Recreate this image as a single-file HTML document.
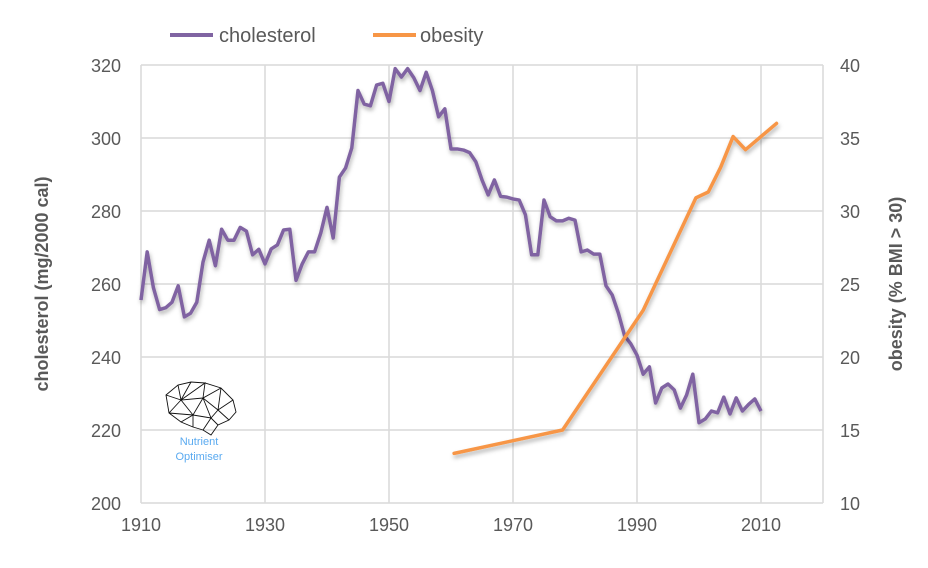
<!DOCTYPE html>
<html><head><meta charset="utf-8"><style>
body{margin:0;background:#fff;width:928px;height:563px;overflow:hidden;font-family:"Liberation Sans",sans-serif}
svg text{font-family:"Liberation Sans",sans-serif}
</style></head><body>
<svg id="chart" width="928" height="563">
<defs><filter id="sh" x="-5%" y="-5%" width="110%" height="120%"><feDropShadow dx="1" dy="3" stdDeviation="2" flood-color="#000" flood-opacity="0.3"/></filter></defs>
<g id="grid"></g>
<g id="axes"></g>
<g transform="translate(163,380)">
<path d="M3,15 L15,5 L28,2 L42,3 L58,8 L70,20 L73,32 L66,40 L55,45 L48,55 L40,50 L30,47 L18,42 L6,33 Z M15,5 L18,20 L28,2 M18,20 L42,3 L40,18 L58,8 M40,18 L18,20 L6,33 M18,20 L30,35 L40,18 L55,30 L58,8 M55,30 L70,20 M55,30 L66,40 M30,35 L18,42 M30,35 L30,47 M30,35 L48,38 L55,30 M48,38 L55,45 M48,38 L40,50 M3,15 L18,20 M6,33 L30,35 M40,18 L48,38" fill="none" stroke="#111" stroke-width="0.9"/>
<text x="36" y="65" font-size="11" fill="#5aaaf0" text-anchor="middle">Nutrient</text>
<text x="36" y="80" font-size="11" fill="#5aaaf0" text-anchor="middle">Optimiser</text>
</g>
<g id="series"></g>
<g>
<line x1="170" y1="35" x2="213" y2="35" stroke="#8064a2" stroke-width="4"/>
<text x="219" y="42" font-size="20" fill="#595959">cholesterol</text>
<line x1="373" y1="35" x2="416" y2="35" stroke="#f79646" stroke-width="4"/>
<text x="420" y="42" font-size="20" fill="#595959">obesity</text>
</g>
<text transform="translate(48,284) rotate(-90)" text-anchor="middle" font-size="18" font-weight="bold" fill="#595959">cholesterol (mg/2000 cal)</text>
<text transform="translate(902,284) rotate(-90)" text-anchor="middle" font-size="18" font-weight="bold" fill="#595959">obesity (% BMI &gt; 30)</text>
</svg>
<script>
const years=[];for(let y=1910;y<=2010;y++)years.push(y);
const cholesterol=[255.6,268.8,259,253,253.5,255,259.5,251,252,255,266,272,265,275,272,272,275.5,274.5,268,269.5,265.5,269.6,270.7,274.8,275,261,265.5,268.8,268.8,274,281,272.6,289.3,291.8,297.3,313,309.3,308.8,314.5,315,310,319,316.7,319,316.5,313,318,313,305.8,308,297,297,296.7,296,293.5,288.5,284.4,288.5,284,283.8,283.3,283,279,268,268,283,278.4,277.3,277.3,278,277.5,268.8,269.3,268.2,268.2,259.5,257,252,245.8,243.6,240.5,235.3,237.3,227.4,231.5,232.6,231,226,229.6,235.3,222,223,225.2,224.7,229,224.4,228.8,225.2,227,228.5,225.2];
const obesityYears=[1960.5,1978,1991,1999.5,2001.5,2003.5,2005.5,2007.5,2012.5];
const obesity=[13.4,15.0,23.2,30.9,31.3,33,35.1,34.2,36];
const xTicks=[1910,1930,1950,1970,1990,2010];
const yLeftTicks=[200,220,240,260,280,300,320];
const yRightTicks=[10,15,20,25,30,35,40];
const X0=141,X1=823,Y0=503,Y1=65;
const xs=v=>X0+(v-1910)/110*(X1-X0);
const yl=v=>Y0-(v-200)/120*(Y0-Y1);
const yr=v=>Y0-(v-10)/30*(Y0-Y1);
const NS="http://www.w3.org/2000/svg";
function mk(t,a,p){const e=document.createElementNS(NS,t);for(const k in a)e.setAttribute(k,a[k]);p.appendChild(e);return e;}
const grid=document.getElementById('grid'),axes=document.getElementById('axes'),series=document.getElementById('series');
yLeftTicks.forEach(v=>{const l=mk('line',{x1:X0,x2:X1,y1:yl(v),y2:yl(v),stroke:'#d9d9d9','stroke-width':1.5},grid);


const t=mk('text',{x:X0-20,y:yl(v)+7,'font-size':18,fill:'#595959','text-anchor':'end'},axes);t.textContent=v;

});
xTicks.forEach(v=>{const l=mk('line',{x1:xs(v),x2:xs(v),y1:Y1,y2:Y0,stroke:'#d9d9d9','stroke-width':1.5},grid);


const t=mk('text',{x:xs(v),y:Y0+28,'font-size':18,fill:'#595959','text-anchor':'middle'},axes);t.textContent=v;

});
mk('line',{x1:X1,x2:X1,y1:Y1,y2:Y0,stroke:'#d9d9d9','stroke-width':1.5},grid);
yRightTicks.forEach(v=>{const t=mk('text',{x:X1+17,y:yr(v)+7,'font-size':18,fill:'#595959','text-anchor':'start'},axes);t.textContent=v;

});
const c=mk('polyline',{points:years.map((y,i)=>xs(y)+','+yl(cholesterol[i])).join(' '),fill:'none',stroke:'#8064a2','stroke-width':3.5,'stroke-linejoin':'round',filter:'url(#sh)'},series);


const o=mk('polyline',{points:obesityYears.map((y,i)=>xs(y)+','+yr(obesity[i])).join(' '),fill:'none',stroke:'#f79646','stroke-width':3.5,'stroke-linejoin':'round','stroke-linecap':'round',filter:'url(#sh)'},series);


</script>
</body></html>
